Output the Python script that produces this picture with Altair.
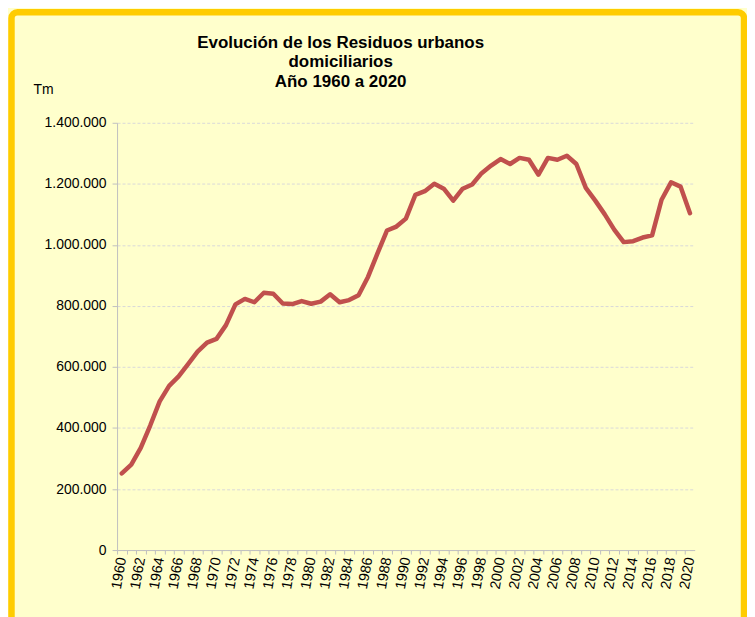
import altair as alt
import pandas as pd

years = list(range(1960, 2021))
residuos = [251000, 280000, 335000, 408000, 487000, 538000, 569000, 609000, 650000, 680000,
            692000, 737000, 805000, 823000, 812000, 843000, 840000, 808000, 806000, 816000,
            807000, 814000, 838000, 812000, 819000, 835000, 895000, 972000, 1047000, 1060000,
            1086000, 1164000, 1176000, 1200000, 1184000, 1145000, 1184000, 1198000, 1235000, 1260000,
            1281000, 1265000, 1285000, 1279000, 1230000, 1285000, 1279000, 1292000, 1265000, 1187000,
            1145000, 1100000, 1050000, 1009000, 1012000, 1024000, 1031000, 1148000, 1205000, 1191000,
            1104000]
y_ticks = [0, 200000, 400000, 600000, 800000, 1000000, 1200000, 1400000]
x_ticks = list(range(1960, 2022))
title_lines = ["Evolución de los Residuos urbanos", "domiciliarios", "Año 1960 a 2020"]
y_title = "Tm"

FONT = "Liberation Sans"
W, H = 580, 429
step = W / len(years)

df = pd.DataFrame({"year": years, "value": residuos})

x_enc = alt.X(
    "year:Q",
    scale=alt.Scale(domain=[1959.5, 2020.5], nice=False, zero=False),
    axis=alt.Axis(
        values=x_ticks,
        title=None,
        grid=False,
        tickOffset=-step / 2,
        labelOffset=step / 2,
        labelExpr="(datum.value % 2 == 0 && datum.value <= 2020) ? '' + datum.value : ''",
        labelAngle=280,
        labelAlign="right",
        labelBaseline="middle",
        labelOverlap=False,
        labelFlush=False,
        labelBound=False,
        labelFont=FONT,
        labelFontSize=14.5,
        labelColor="#000000",
        labelPadding=3,
        tickSize=4,
        tickColor="#BFBFBF",
        domainColor="#BFBFBF",
    ),
)

y_enc = alt.Y(
    "value:Q",
    scale=alt.Scale(domain=[0, 1400000], nice=False),
    axis=alt.Axis(
        values=y_ticks,
        title=y_title,
        titleAngle=0,
        titleAlign="left",
        titleBaseline="alphabetic",
        titleX=-84.5,
        titleY=-29,
        titleFont=FONT,
        titleFontSize=14,
        titleFontWeight="normal",
        titleColor="#000000",
        labelExpr="replace(replace(format(datum.value, ',d'), ',', '.'), ',', '.')",
        labelFont=FONT,
        labelFontSize=14,
        labelColor="#000000",
        labelPadding=6,
        tickSize=5,
        tickColor="#BFBFBF",
        domainColor="#BFBFBF",
        grid=True,
        gridColor="#D9D9D9",
        gridDash=[3, 2],
        gridWidth=1,
    ),
)

line = alt.Chart(df).mark_line(
    color="#C0504D", strokeWidth=4.5, strokeJoin="round", strokeCap="round"
).encode(x=x_enc, y=y_enc)

frame = alt.Chart(pd.DataFrame({"k": [0]})).mark_rect(
    fill="transparent", stroke="#FFCC00", strokeWidth=6.5, cornerRadius=6
).encode(
    x=alt.value(-106), x2=alt.value(629.5), y=alt.value(-111), y2=alt.value(520)
)

chart = alt.layer(line, frame).properties(
    width=W,
    height=H,
    autosize=alt.AutoSizeParams(type="none"),
    padding={"left": 109.5, "top": 114, "right": 52.5, "bottom": 80},
    background="#FFFFCC",
    title=alt.TitleParams(
        text=title_lines,
        font=FONT,
        fontSize=17,
        fontWeight="bold",
        color="#000000",
        anchor="middle",
        dx=-65.5,
        lineHeight=19.5,
        offset=0,
        dy=82,
    ),
).configure_view(strokeWidth=0)

chart.save("out.html", embed_options={"renderer": "svg", "actions": False})
